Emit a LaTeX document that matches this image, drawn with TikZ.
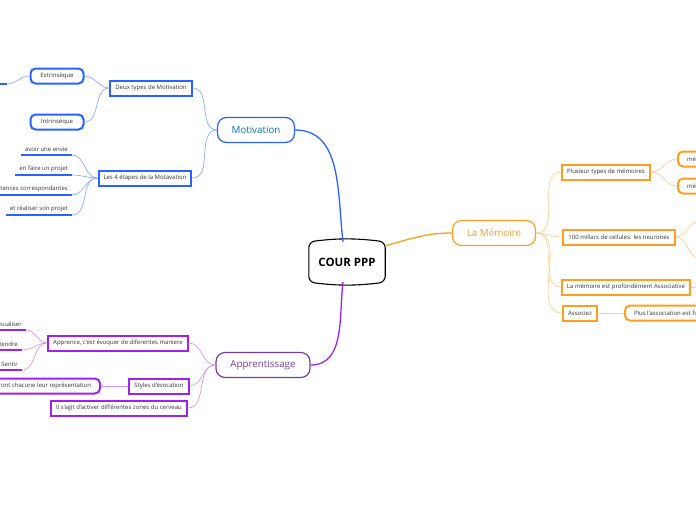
\documentclass[tikz,border=0pt]{standalone}
\usepackage{fontspec}
\setmainfont{Open Sans}
\usetikzlibrary{positioning}
\definecolor{motivblue}{RGB}{41,98,255}
\definecolor{motivline}{RGB}{140,172,255}
\definecolor{motivtext}{RGB}{20,110,180}
\definecolor{memorange}{RGB}{255,158,30}
\definecolor{memline}{RGB}{255,208,150}
\definecolor{apppurple}{RGB}{160,32,240}
\definecolor{appdark}{RGB}{120,60,160}
\definecolor{appline}{RGB}{215,150,245}
\definecolor{leaftext}{RGB}{50,50,50}
\newcommand{\smalltxt}{\fontsize{6}{7}\selectfont}

\tikzset{
  topic/.style={draw, line width=1.2pt, rounded corners=9pt, minimum height=25pt, font=\fontsize{9.8}{11}\selectfont, inner xsep=9pt},
  subbox/.style={draw, line width=2pt, minimum height=15pt, font=\smalltxt, text=leaftext, inner xsep=5pt},
  leafbox/.style={draw, line width=2pt, rounded corners=5pt, minimum height=15pt, font=\smalltxt, text=leaftext, inner xsep=9pt},
  uline/.style={font=\smalltxt, text=leaftext, inner xsep=4pt, inner ysep=3pt, anchor=south east},
  branch/.style={draw=#1, line width=0.7pt},
  trunk/.style={draw=#1, line width=1.3pt}
}

\begin{document}
\begin{tikzpicture}[x=1pt,y=-1pt]
    \useasboundingbox (0,0) rectangle (696,520);

    % Central topic
    \node[minimum width=76pt, minimum height=40pt, font=\fontsize{11.5}{12}\selectfont\bfseries] (cour) at (347,262) {COUR PPP};
    \draw[line width=1.1pt, rounded corners=6pt] (cour.north west) to[bend left=7] (cour.north east) -- (cour.south east) to[bend left=7] (cour.south west) -- cycle;

    % Motivation
    \node[topic, draw=motivblue, text=motivtext, minimum width=77pt] (motiv) at (256,130) {Motivation};
    \node[subbox, draw=motivblue] (deux) at (151,88) {Deux types de Motivation};
    \node[leafbox, draw=motivblue, minimum width=53pt] (extr) at (57,76) {Extrinsèque};
    \node[leafbox, draw=motivblue, minimum width=53pt] (intr) at (57,122) {Intrinsèque};
    \node[uline, minimum width=40pt] (extrkid) at (7,84) {};
    \node[subbox, draw=motivblue] (etapes) at (145,178) {Les 4 étapes de la Motavation};
    \node[uline] (env) at (72,155) {avoir une envie};
    \node[uline] (proj) at (72,175) {en faire un projet};
    \node[uline] (comp) at (72,195) {les compétences correspondantes};
    \node[uline] (real) at (72,215) {et réaliser son projet};

    \draw[trunk=motivblue] (motiv.east) to[out=0,in=97] ([xshift=-4pt]cour.north);
    \draw[branch=motivline] (motiv.west) to[out=180,in=0] (deux.east);
    \draw[branch=motivline] (motiv.west) to[out=180,in=0] (etapes.east);
    \draw[branch=motivline] (deux.west) to[out=180,in=0] (extr.east);
    \draw[branch=motivline] (deux.west) to[out=180,in=0] (intr.east);
    \draw[branch=motivline] (extr.west) to[out=180,in=0] (extrkid.south east);
    \foreach \n in {env,proj,comp,real}
        \draw[branch=motivline] (etapes.west) to[out=180,in=0] (\n.south east);

    % La Memoire
    \node[topic, draw=memorange, text=memorange, minimum width=83pt] (mem) at (494,233) {La Mémoire};
    \node[subbox, draw=memorange] (types) at (606,172) {Plusieur types de mémoires};
    \node[leafbox, draw=memorange, anchor=west] (mem1) at (677,159) {mémoire};
    \node[leafbox, draw=memorange, anchor=west] (mem2) at (677,186) {mémoire};
    \node[subbox, draw=memorange] (neur) at (619,237) {100 millars de cellules: les neurones};
    \coordinate (neur1) at (700,221);
    \coordinate (neur2) at (700,258);
    \node[subbox, draw=memorange] (assoc) at (626,287) {La mémoire est profondément Associative};
    \coordinate (assoc1) at (700,287);
    \node[subbox, draw=memorange] (associez) at (580,313) {Associez};
    \node[leafbox, draw=memorange, anchor=west] (plus) at (624,313) {Plus l'association est forte};

    \draw[trunk=memorange] (mem.west) to[out=180,in=15] ([yshift=-4pt]cour.north east);
    \foreach \n in {types,neur,assoc,associez}
        \draw[branch=memline] (mem.east) to[out=0,in=180] (\n.west);
    \draw[branch=memline] (types.east) to[out=0,in=180] (mem1.west);
    \draw[branch=memline] (types.east) to[out=0,in=180] (mem2.west);
    \draw[branch=memline] (neur.east) to[out=0,in=180] (neur1);
    \draw[branch=memline] (neur.east) to[out=0,in=180] (neur2);
    \draw[branch=memline] (assoc.east) -- (assoc1);
    \draw[branch=memline] (associez.east) -- (plus.west);

    % Apprentissage
    \node[topic, draw=appdark, text=appdark, minimum width=94pt] (app) at (263,365) {Apprentissage};
    \node[subbox, draw=apppurple] (evoq) at (118,343) {Apprence, c'est évoquer de diferentes maniere};
    \node[uline] (visu) at (26,330) {Visualiser};
    \node[uline] (entend) at (22,350) {Entendre};
    \node[uline] (sentir) at (22,370) {Sentir};
    \node[subbox, draw=apppurple] (styles) at (159,386) {Styles d'évocation};
    \node[leafbox, draw=apppurple, anchor=east] (repr) at (101,386) {auront chacune leur représentation};
    \node[subbox, draw=apppurple] (zones) at (119,408) {Il s'agit d'activer différentes zones du cerveau};

    \draw[trunk=apppurple] (app.east) to[out=0,in=-97] ([xshift=-4pt]cour.south);
    \foreach \n in {evoq,styles,zones}
        \draw[branch=appline] (app.west) to[out=180,in=0] (\n.east);
    \foreach \n in {visu,entend,sentir}
        \draw[branch=appline] (evoq.west) to[out=180,in=0] (\n.south east);
    \draw[branch=appline] (styles.west) -- (repr.east);

    % Underlines of the leaves
    \foreach \n/\c in {extrkid/motivblue,env/motivblue,proj/motivblue,comp/motivblue,real/motivblue,visu/apppurple,entend/apppurple,sentir/apppurple}
        \draw[line width=1.6pt, \c] (\n.south west) -- (\n.south east);
\end{tikzpicture}
\end{document}
